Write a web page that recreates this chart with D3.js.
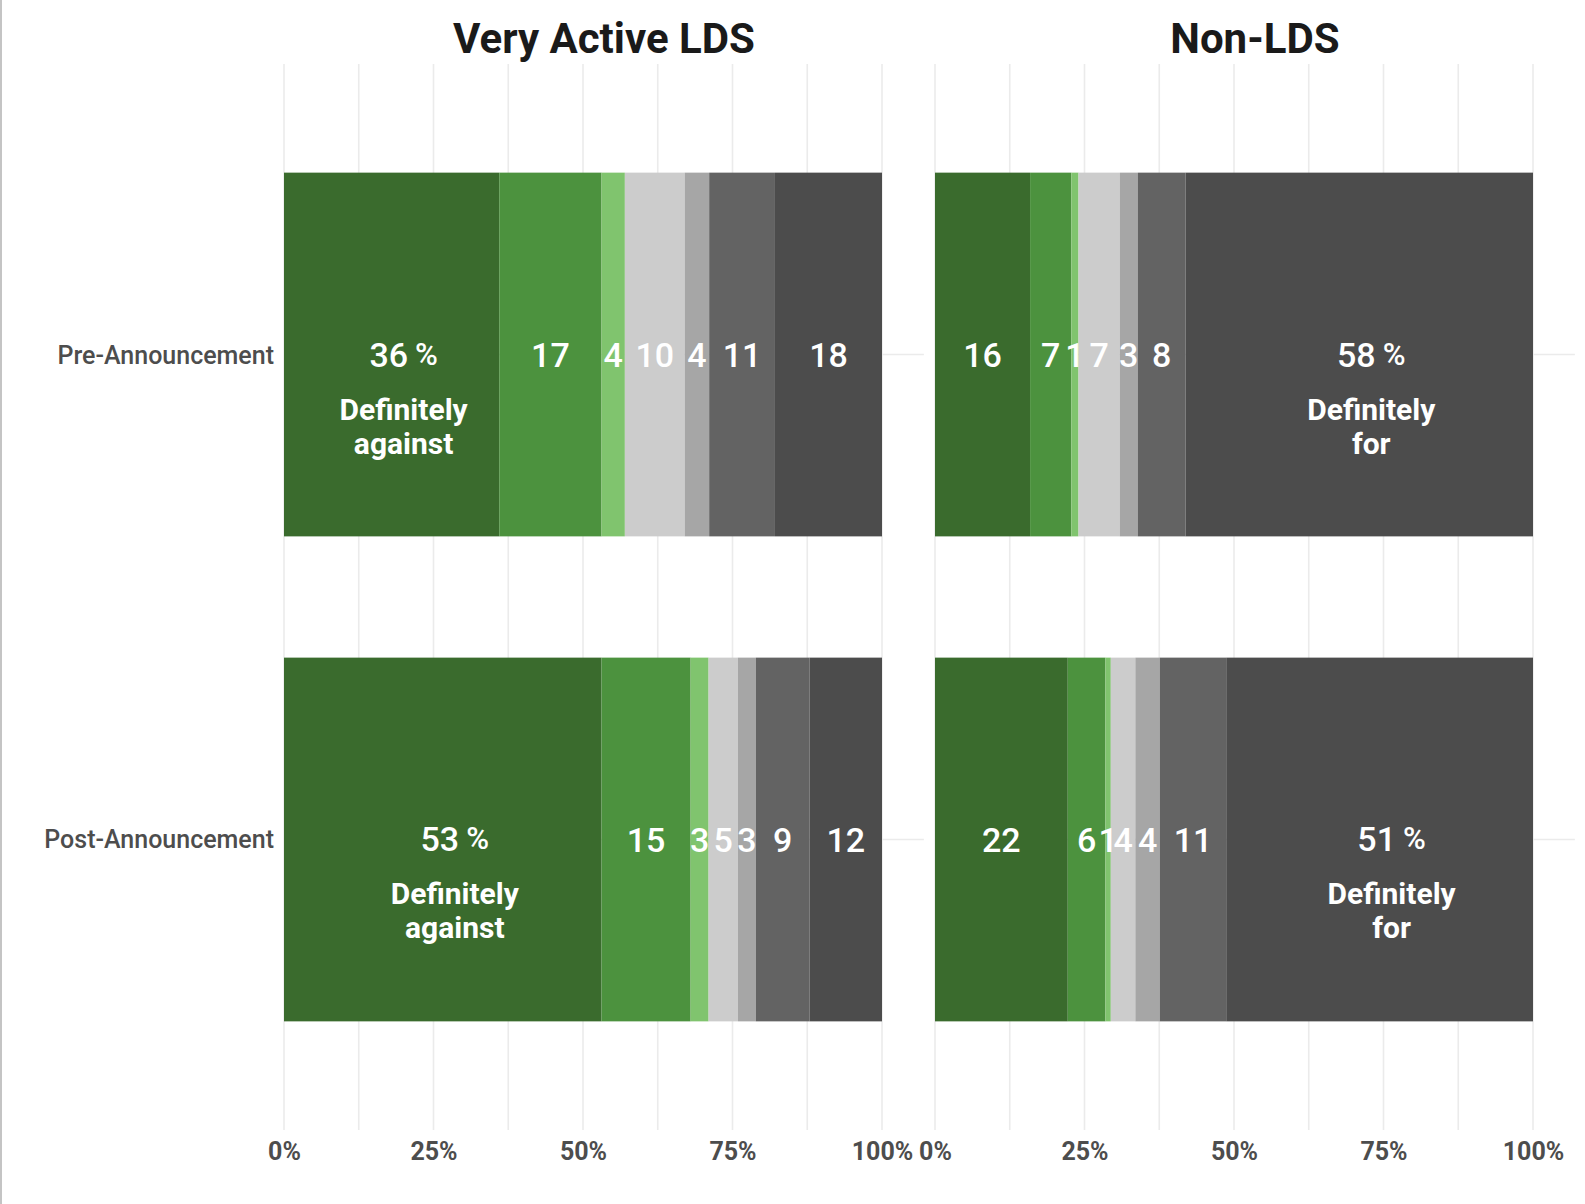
<!DOCTYPE html>
<html>
<head>
<meta charset="utf-8">
<script src="https://cdn.jsdelivr.net/npm/d3@7"></script>
<style>
  body { margin: 0; background: #fff; }
  text { font-family: Roboto, "Noto Sans", sans-serif; }
</style>
</head>
<body>
<div id="chart"></div>
<script>
var svgWidth = 1585;
var svgHeight = 1204;

// data
var groups = ["Very Active LDS", "Non-LDS"];
var periods = ["Pre-Announcement", "Post-Announcement"];
var categories = ["Definitely against", "Probably against", "Lean against",
  "Don't know", "Lean for", "Probably for", "Definitely for"];
var activePre = [36.0, 17.1, 3.9, 10.0, 4.1, 11.0, 17.9];
var activePost = [53.1, 14.9, 3.0, 4.9, 3.0, 9.0, 12.1];
var nonPre = [15.9, 6.9, 1.2, 6.9, 3.0, 8.0, 58.1];
var nonPost = [22.2, 6.3, 0.9, 4.1, 4.1, 11.1, 51.3];
var tickValues = [0, 25, 50, 75, 100];
var gridValues = [0, 12.5, 25, 37.5, 50, 62.5, 75, 87.5, 100];

var colors = ["#3a6b2d", "#4c923e", "#80c46e", "#cccccc", "#a6a6a6", "#636363", "#4c4c4c"];

var seriesByGroup = [[activePre, activePost], [nonPre, nonPost]];

var panelLeft = [284, 935];
var panelW = 598;

var svg = d3.select("#chart")
  .append("svg")
  .attr("width", svgWidth)
  .attr("height", svgHeight);

// left border line
svg.append("line")
  .attr("x1", 1).attr("x2", 1)
  .attr("y1", 0).attr("y2", svgHeight)
  .attr("stroke", "#c4c4c4")
  .attr("stroke-width", 2);

var yScale = d3.scaleBand()
  .domain(periods)
  .range([64, 1130])
  .paddingInner(0.25)
  .paddingOuter(0.224);

groups.forEach(function(group, gi) {
  var xScale = d3.scaleLinear()
    .domain([0, 100])
    .range([0, panelW]);

  var g = svg.append("g")
    .attr("transform", `translate(${panelLeft[gi]}, 0)`);

  // vertical gridlines
  g.selectAll(".vgrid")
    .data(gridValues)
    .enter()
    .append("line")
    .attr("x1", d => xScale(d))
    .attr("x2", d => xScale(d))
    .attr("y1", yScale.range()[0])
    .attr("y2", yScale.range()[1])
    .attr("stroke", "#ebebeb")
    .attr("stroke-width", 1.6);

  // horizontal gridlines
  g.selectAll(".hgrid")
    .data(periods)
    .enter()
    .append("line")
    .attr("x1", xScale(0))
    .attr("x2", xScale(107))
    .attr("y1", d => yScale(d) + yScale.bandwidth() / 2)
    .attr("y2", d => yScale(d) + yScale.bandwidth() / 2)
    .attr("stroke", "#ebebeb")
    .attr("stroke-width", 1.6);

  // title
  g.append("text")
    .attr("x", xScale(53.5))
    .attr("y", 53)
    .attr("text-anchor", "middle")
    .style("font-size", "42px")
    .style("font-weight", "bold")
    .style("fill", "#1a1a1a")
    .text(group);

  periods.forEach(function(period, pi) {
    var vals = seriesByGroup[gi][pi];
    var segs = [];
    var acc = 0;
    vals.forEach(function(v, i) {
      segs.push({ cat: categories[i], value: v, x0: acc, x1: acc + v, color: colors[i] });
      acc += v;
    });
    var maxIdx = d3.maxIndex(vals);
    var y0 = yScale(period);
    var cy = y0 + yScale.bandwidth() / 2;

    g.selectAll(".seg" + pi)
      .data(segs)
      .enter()
      .append("rect")
      .attr("x", d => xScale(d.x0))
      .attr("width", d => xScale(d.x1) - xScale(d.x0))
      .attr("y", y0)
      .attr("height", yScale.bandwidth())
      .attr("fill", d => d.color);

    // small numeric labels
    g.selectAll(".lab" + pi)
      .data(segs.filter((d, i) => i !== maxIdx))
      .enter()
      .append("text")
      .attr("x", d => xScale((d.x0 + d.x1) / 2))
      .attr("y", cy)
      .attr("dy", "0.36em")
      .attr("text-anchor", "middle")
      .style("font-size", "34px")
      .style("font-weight", "500")
      .style("fill", "#ffffff")
      .text(d => Math.round(d.value));

    // big label on the largest segment
    var big = segs[maxIdx];
    var bx = xScale((big.x0 + big.x1) / 2) + 12;
    var bt = g.append("text")
      .attr("x", bx)
      .attr("y", cy + 12)
      .attr("text-anchor", "middle")
      .style("fill", "#ffffff")
      .style("font-size", "34px")
      .style("font-weight", "500");
    bt.append("tspan")
      .text(Math.round(big.value));
    bt.append("tspan")
      .attr("dx", 7)
      .attr("dy", -2)
      .style("font-size", "31px")
      .text("%");

    var words = big.cat.split(" ");
    g.selectAll(".word" + pi)
      .data(words)
      .enter()
      .append("text")
      .attr("x", bx)
      .attr("y", (d, i) => cy + 65 + i * 34)
      .attr("text-anchor", "middle")
      .style("font-size", "30px")
      .style("font-weight", "bold")
      .style("fill", "#ffffff")
      .text(d => d);
  });

  // bottom axis
  var axis = d3.axisBottom(xScale)
    .tickValues(tickValues)
    .tickSize(0)
    .tickPadding(12)
    .tickFormat(d => d + "%");

  var ax = g.append("g")
    .attr("transform", `translate(0, ${yScale.range()[1]})`)
    .call(axis);
  ax.select(".domain").remove();
  ax.selectAll("text")
    .style("font-family", "Roboto, sans-serif")
    .style("font-size", "25px")
    .style("font-weight", "bold")
    .style("fill", "#4d4d4d");
});

// row labels
svg.selectAll(".rowlab")
  .data(periods)
  .enter()
  .append("text")
  .attr("x", 274)
  .attr("y", d => yScale(d) + yScale.bandwidth() / 2)
  .attr("dy", "0.36em")
  .attr("text-anchor", "end")
  .style("font-size", "25px")
  .style("font-weight", "500")
  .style("fill", "#4d4d4d")
  .text(d => d);
</script>
</body>
</html>
